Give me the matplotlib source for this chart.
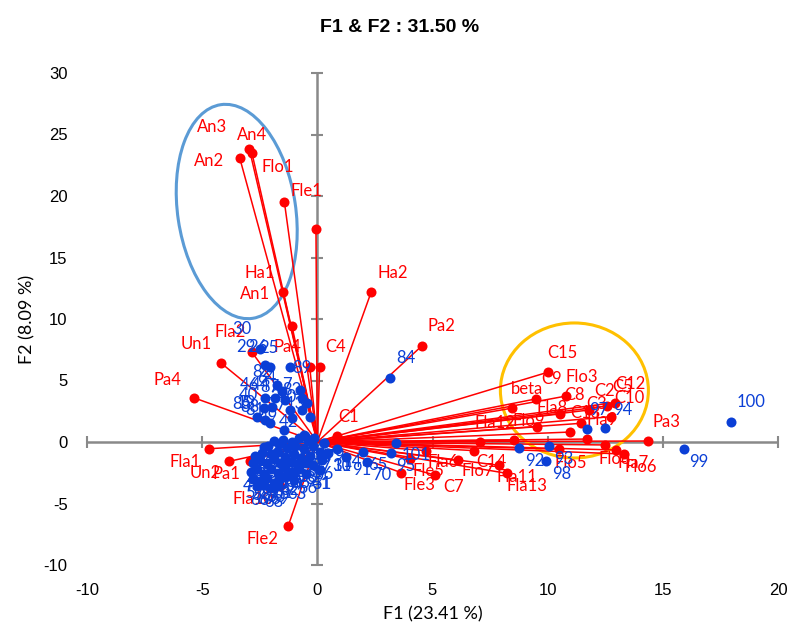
import matplotlib
matplotlib.use("Agg")
import matplotlib.pyplot as plt
from matplotlib.patches import Ellipse
from matplotlib.transforms import Affine2D

plt.rcParams["axes.unicode_minus"] = False

# ---- variables (red vectors) ----
var_names = ["An3", "An4", "An2", "Flo1", "Fle1", "Ha1", "An1", "Ha2", "Pa2", "C4",
             "Pa4", "Fla2", "Un1", "Pa4", "Fla1", "Un2", "Pa1", "Fla10", "Fle2", "C1",
             "Fla6", "Fle5", "Fle3", "C7", "Flo7", "C14", "Fla11", "Fla13",
             "C15", "C9", "Flo3", "C8", "Fla8", "C2", "C3", "C5", "C12", "C10",
             "C13", "Fla9", "Fla12", "Flo9", "beta", "Flo5", "Flo8", "Fla7", "Flo6", "Pa3"]
var_x = [-2.95, -2.84, -3.37, -1.43, -0.06, -1.49, -1.10, 2.34, 4.53, 0.10,
         -0.33, -2.84, -4.20, -5.37, -4.70, -3.83, -2.94, -1.60, -1.26, 0.85,
         4.70, 4.04, 3.65, 5.12, 6.09, 6.79, 7.90, 8.24,
         10.00, 9.48, 10.81, 10.52, 9.54, 11.80, 11.45, 12.58, 12.92, 12.75,
         10.99, 11.71, 7.08, 8.52, 8.47, 10.48, 12.50, 12.98, 13.30, 14.34]
var_y = [23.8, 23.5, 23.1, 19.5, 17.3, 12.2, 9.4, 12.2, 7.8, 6.1,
         6.1, 7.3, 6.45, 3.6, -0.55, -1.57, -1.52, -3.55, -6.8, 0.5,
         -0.7, -1.38, -2.5, -2.7, -1.5, -0.7, -1.9, -2.55,
         5.67, 3.5, 3.74, 2.28, 1.24, 2.6, 1.52, 2.93, 3.21, 2.06,
         0.81, 0.24, 0.02, 0.16, 2.76, -0.59, -0.24, -0.65, -0.98, 0.08]

# ---- observations (blue points) ----
obs_names = ["30", "29", "26", "25", "82", "64", "89", "46", "44", "87", "7", "40",
             "19", "90", "83", "88", "81", "49", "13", "3", "42", "85", "77",
             "1", "2", "4", "5", "6", "8", "9", "10", "11", "12", "15",
             "16", "17", "18", "20", "21", "22", "23", "24", "27",
             "28", "32", "33", "34", "35", "36", "37", "38", "39", "41",
             "43", "45", "48", "50", "52", "53", "54", "55", "56",
             "57", "58", "59", "60", "61", "62", "63",
             "66", "67", "68", "69",
             "71", "72", "73", "74", "75", "76",
             "47", "31", "91", "65", "70", "95", "101", "51", "14",
             "92", "93", "98", "97", "94", "99", "100", "84"]
obs_x = [-2.48, -2.29, -2.07, -1.17, -1.75, -1.53, -0.74, -2.29, -1.82, -1.39, -0.66, -2.33,
         -1.97, -0.66, -0.45, -2.26, -2.04, -1.46, -0.33, -1.17, -0.59, -2.62, -1.10,
         -1.9, -1.5, -1.1, -0.8, -0.4, -0.2, 0.3, 0.45, -2.3, -1.3, -0.6,
         -2.7, -2.4, -2.0, -1.7, -1.4, -1.0, -0.7, -0.3, 0.1,
         -2.8, -2.5, -2.2, -1.9, -1.6, -1.2, -0.9, -0.5, -0.2, 0.1,
         -2.9, -2.6, -2.3, -2.0, -1.7, -1.4, -1.1, -0.8, -0.5,
         -2.8, -2.5, -2.2, -1.9, -1.6, -1.3, -1.0,
         -2.6, -2.3, -2.0, -1.7,
         -0.95, -0.15, -1.65, -2.15, -0.55, 0.2,
         0.27, 0.42, 1.26, 1.97, 2.16, 3.20, 3.42, 0.10, 0.85,
         8.77, 10.04, 9.94, 11.70, 12.50, 15.90, 17.95, 3.14]
obs_y = [7.56, 6.26, 6.12, 6.07, 4.63, 4.15, 4.23, 3.55, 3.55, 3.41, 3.55, 2.74,
         2.87, 2.60, 3.15, 1.79, 1.52, 0.98, 2.06, 2.60, 0.57, 2.00, 1.92,
         0.1, 0.2, 0.0, 0.3, 0.1, -0.3, -0.1, -0.9, -0.4, -0.5, -0.6,
         -1.1, -0.9, -1.0, -0.8, -1.2, -1.0, -1.3, -1.1, -0.8,
         -1.7, -1.5, -1.8, -1.4, -1.7, -1.6, -1.8, -1.7, -1.9, -2.3,
         -2.4, -2.2, -2.6, -2.2, -2.5, -2.1, -2.4, -2.2, -2.6,
         -3.0, -3.2, -2.9, -3.3, -3.0, -2.8, -3.1,
         -3.6, -3.5, -3.7, -3.5,
         -0.35, 0.35, -0.15, -0.3, 0.45, -1.45,
         -0.10, -0.90, -1.25, -0.80, -1.60, -0.92, -0.05, -2.28, -0.60,
         -0.50, -0.33, -1.52, 1.03, 1.10, -0.60, 1.63, 5.20]

xticks = [-10, -5, 0, 5, 10, 15, 20]
yticks = [-10, -5, 0, 5, 10, 15, 20, 25, 30]

# label offsets in pixels (dx, dy up) for the red labels
var_off = [(-37, 22), (0, 18), (-31, -3), (-7, 35), (-10, 38), (-23, 19), (-37, 32), (22, 19), (20, 20), (16, 20),
           (-22, 20), (-22, 20), (-24, 19), (-26, 18), (-24, -13), (-24, -12), (-23, -13), (-28, -13), (-26, -13), (12, 19),
           (18, -11), (18, -12), (18, -12), (18, -12), (20, -11), (18, -11), (18, -12), (20, -13),
           (15, 19), (16, 20), (15, 19), (15, 19), (15, 19), (15, 19), (15, 19), (15, 19), (15, 19), (18, 19),
           (15, 19), (15, 19), (15, 19), (15, 19), (15, 19), (12, -14), (10, -14), (17, -13), (17, -13), (19, 19)]
obs_off_override = {"30": (-18, 20), "29": (-19, 18), "26": (-12, 20), "25": (-22, 19), "89": (2, 22),
                    "19": (-26, 4), "97": (12, 19), "94": (17, 18), "100": (20, 20), "84": (16, 20),
                    "99": (15, -13), "101": (20, -12)}

RED = "#ff0000"
BLUE = "#0b3fd6"
GRAY = "#898989"
LBL = ["Lato", "DejaVu Sans"]
TICKF = ["Liberation Sans Narrow", "Liberation Sans"]

fig = plt.figure(figsize=(7.93, 6.35), dpi=100)
ax = fig.add_axes([87 / 793, 1 - 565 / 635, 691 / 793, 492 / 635])
ax.set_xlim(-10, 20)
ax.set_ylim(-10, 30)
for s in ax.spines.values():
    s.set_visible(False)

# axis lines through origin with tick marks
ax.axhline(0, color=GRAY, lw=1.8, zorder=0)
ax.axvline(0, color=GRAY, lw=1.8, zorder=0)
ax.plot(xticks, [0] * len(xticks), "|", ms=9, mew=1.5, color=GRAY, zorder=0, clip_on=False)
ax.plot([0] * len(yticks), yticks, "_", ms=9, mew=1.5, color=GRAY, zorder=0, clip_on=False)

ax.set_xticks(xticks)
ax.set_yticks(yticks)
ax.tick_params(length=0, labelsize=12, pad=13)
ax.tick_params(axis="y", pad=14)
for t in ax.get_xticklabels() + ax.get_yticklabels():
    t.set_family(TICKF)

# red vectors
for x, y in zip(var_x, var_y):
    ax.plot([0, x], [0, y], color=RED, lw=1.1, zorder=2)
ax.scatter(var_x, var_y, s=52, color=RED, zorder=3, linewidths=0)
for name, x, y, off in zip(var_names, var_x, var_y, var_off):
    ax.annotate(name, (x, y), xytext=off, textcoords="offset pixels",
                ha="center", va="center", color=RED, fontsize=12, family=LBL, zorder=4)

# blue observations
ax.scatter(obs_x, obs_y, s=52, color=BLUE, zorder=5, linewidths=0)
for name, x, y in zip(obs_names, obs_x, obs_y):
    if name in obs_off_override:
        off = obs_off_override[name]
    elif x < 0 and y > 0.5:
        off = (-15, 13)
    elif x < 0.3:
        off = (2, -14)
    else:
        off = (15, -13)
    ax.annotate(name, (x, y), xytext=off, textcoords="offset pixels",
                ha="center", va="center", color=BLUE, fontsize=12, family=LBL, zorder=6)

# highlight ellipses (drawn in pixel units, then mapped to data)
px = Affine2D().scale(30 / 691, 40 / 492)
e1 = Ellipse((0, 0), 118, 216, angle=8.5, fill=False, ec="#5b9bd5", lw=2.2)
e1.set_transform(px + Affine2D().translate(-3.5, 18.74) + ax.transData)
ax.add_patch(e1)
e2 = Ellipse((0, 0), 148, 135, angle=0, fill=False, ec="#ffc000", lw=2.2)
e2.set_transform(px + Affine2D().translate(11.16, 4.19) + ax.transData)
ax.add_patch(e2)

ax.set_xlabel("F1 (23.41 %)", fontsize=13, family=LBL, labelpad=6)
ax.set_ylabel("F2 (8.09 %)", fontsize=13, family=LBL, labelpad=6)
fig.text(400 / 793, 1 - 28 / 635, "F1 & F2 : 31.50 %", ha="center", va="center",
         fontsize=14, fontweight="bold", family=TICKF)

fig.savefig("out.png", dpi=100)
